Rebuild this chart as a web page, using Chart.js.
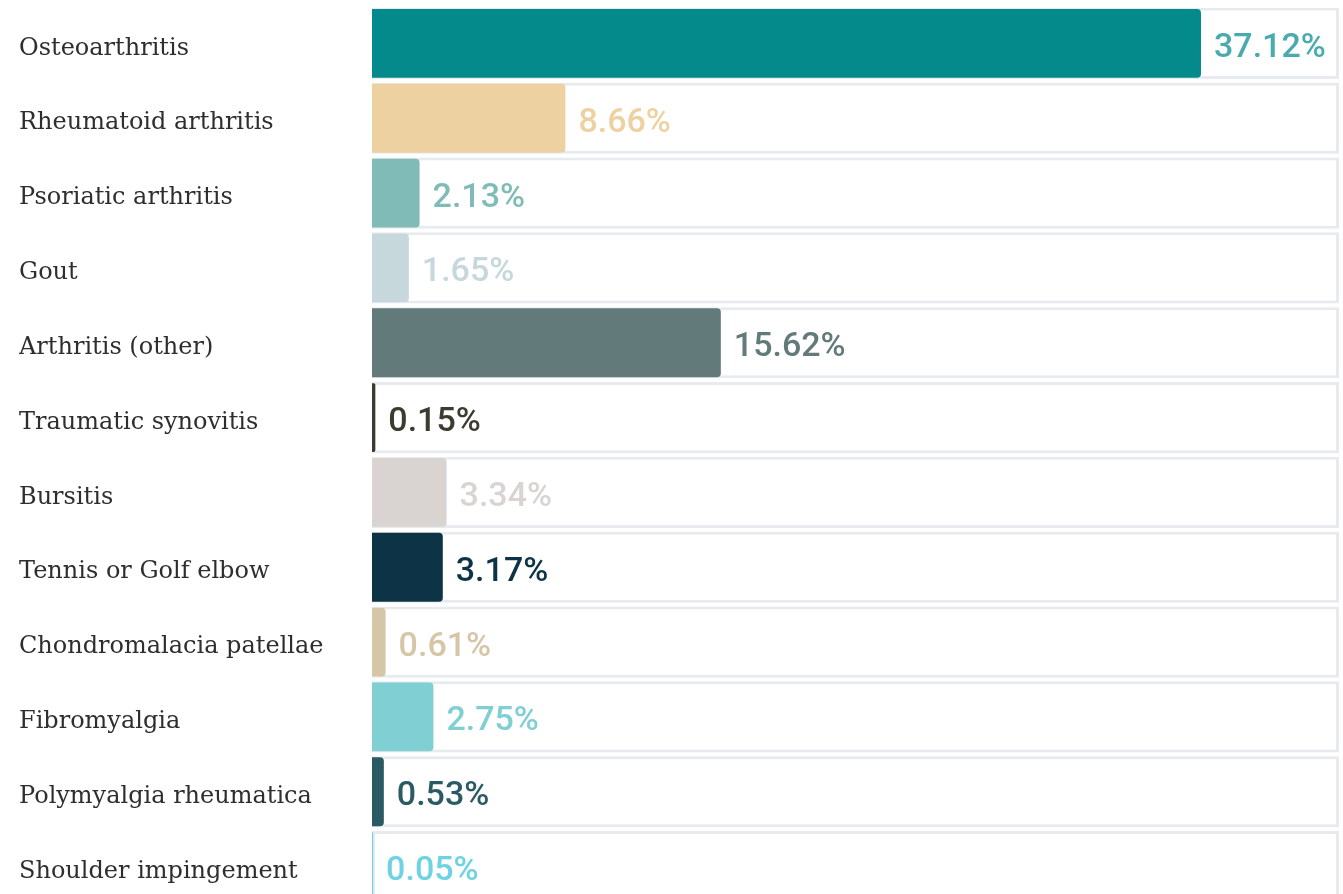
<!DOCTYPE html>
<html>
<head>
<meta charset="utf-8">
<script src="https://cdn.jsdelivr.net/npm/chart.js@4/dist/chart.umd.min.js"></script>
<style>
  html, body { margin: 0; padding: 0; background: #fff; overflow: hidden; }
  #wrap { position: relative; width: 1343px; height: 904px; }
</style>
</head>
<body>
<div id="wrap"><canvas id="chart"></canvas></div>
<script>
const conditions = [
  'Osteoarthritis',
  'Rheumatoid arthritis',
  'Psoriatic arthritis',
  'Gout',
  'Arthritis (other)',
  'Traumatic synovitis',
  'Bursitis',
  'Tennis or Golf elbow',
  'Chondromalacia patellae',
  'Fibromyalgia',
  'Polymyalgia rheumatica',
  'Shoulder impingement'
];
const shares = [37.12, 8.66, 2.13, 1.65, 15.62, 0.15, 3.34, 3.17, 0.61, 2.75, 0.53, 0.05];
const scaleMax = 43.3;

const barColors = ['#058a8b', '#edd1a0', '#80bbb8', '#c6d8dc', '#627b7a', '#3d3a2f',
                   '#d9d4d2', '#0d3446', '#d6c6a8', '#80cfd2', '#2a5a63', '#6dd3e2'];
const labelColors = barColors.map((c, i) => i === 0 ? '#4aabae' : c);

// percentage text just past the end of each bar
const valueLabels = {
  id: 'valueLabels',
  afterDatasetsDraw(chart) {
    const { ctx } = chart;
    const meta = chart.getDatasetMeta(1);
    ctx.save();
    ctx.font = '500 34px Roboto, sans-serif';
    ctx.textBaseline = 'middle';
    ctx.textAlign = 'left';
    meta.data.forEach((bar, i) => {
      ctx.fillStyle = labelColors[i];
      ctx.fillText(shares[i].toFixed(2) + '%', bar.x + 13, bar.y + 5);
    });
    ctx.restore();
  }
};

new Chart(document.getElementById('chart'), {
  type: 'bar',
  data: {
    labels: conditions,
    datasets: [
      {
        // framed track behind each bar
        data: conditions.map(() => scaleMax),
        backgroundColor: '#ffffff',
        borderColor: '#e7eaef',
        borderWidth: 3,
        borderSkipped: false,
        grouped: false,
        order: 2,
        barPercentage: 1,
        categoryPercentage: 0.95
      },
      {
        data: shares,
        backgroundColor: barColors,
        borderRadius: 4,
        grouped: false,
        order: 1,
        barPercentage: 1,
        categoryPercentage: 0.92
      }
    ]
  },
  options: {
    indexAxis: 'y',
    responsive: true,
    maintainAspectRatio: false,
    animation: false,
    layout: { padding: { left: 19, top: 6, right: 4, bottom: 0 } },
    plugins: {
      legend: { display: false },
      tooltip: { enabled: false }
    },
    scales: {
      x: {
        display: false,
        min: 0,
        max: scaleMax
      },
      y: {
        grid: { display: false, drawTicks: false },
        border: { display: false },
        ticks: {
          crossAlign: 'far',
          color: '#2e2e2e',
          padding: 0,
          labelOffset: 5,
          font: { family: '"Roboto Slab", "DejaVu Serif", serif', size: 24, weight: 300 }
        },
        afterFit(scale) {
          scale.width = 353;
          scale.paddingTop = 0;
          scale.paddingBottom = 0;
        }
      }
    }
  },
  plugins: [valueLabels]
});
</script>
</body>
</html>
